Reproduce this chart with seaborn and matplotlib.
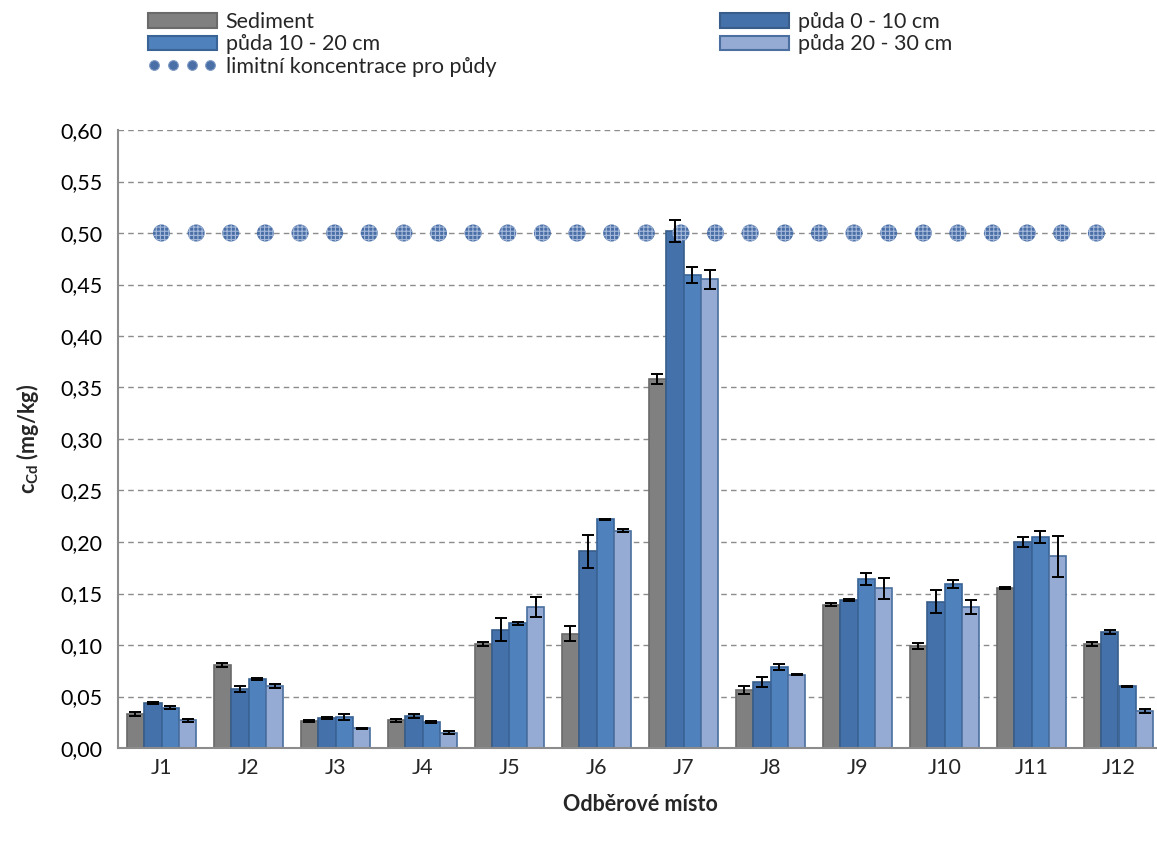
import numpy as np
import pandas as pd
import matplotlib
matplotlib.use("Agg")
import matplotlib.pyplot as plt
from matplotlib.patches import Patch
from matplotlib.lines import Line2D
from matplotlib.ticker import FuncFormatter, MultipleLocator
import seaborn as sns

# Sampling sites and depth series
sites = ["J1", "J2", "J3", "J4", "J5", "J6", "J7", "J8", "J9", "J10", "J11", "J12"]
series = ["Sediment", "půda 0 - 10 cm", "půda 10 - 20 cm", "půda 20 - 30 cm"]

# Cd concentration (mg/kg) and standard deviation for each series
sediment     = [0.033, 0.081, 0.026, 0.027, 0.101, 0.111, 0.358, 0.056, 0.139, 0.099, 0.155, 0.101]
soil_0_10    = [0.044, 0.057, 0.029, 0.031, 0.115, 0.191, 0.502, 0.064, 0.144, 0.142, 0.200, 0.113]
soil_10_20   = [0.039, 0.067, 0.030, 0.025, 0.121, 0.222, 0.459, 0.079, 0.164, 0.159, 0.205, 0.060]
soil_20_30   = [0.027, 0.060, 0.019, 0.015, 0.137, 0.211, 0.455, 0.071, 0.155, 0.137, 0.186, 0.036]

sediment_sd   = [0.0015, 0.002, 0.001, 0.0015, 0.0015, 0.007, 0.005, 0.004, 0.0015, 0.003, 0.001, 0.002]
soil_0_10_sd  = [0.001, 0.003, 0.001, 0.002, 0.011, 0.016, 0.011, 0.005, 0.001, 0.011, 0.005, 0.002]
soil_10_20_sd = [0.0015, 0.001, 0.003, 0.001, 0.0015, 0.0005, 0.008, 0.003, 0.006, 0.004, 0.006, 0.0005]
soil_20_30_sd = [0.0015, 0.002, 0.0005, 0.0015, 0.010, 0.0015, 0.009, 0.0005, 0.010, 0.007, 0.020, 0.002]

# Limit concentration for soils (mg/kg), repeated along the chart
limit_values = [0.50] * 28
limit_label = "limitní koncentrace pro půdy"

values = [sediment, soil_0_10, soil_10_20, soil_20_30]
errors = [sediment_sd, soil_0_10_sd, soil_10_20_sd, soil_20_30_sd]

df = pd.DataFrame({
    "site": np.tile(sites, len(series)),
    "series": np.repeat(series, len(sites)),
    "value": np.concatenate(values),
    "sd": np.concatenate(errors),
})

fill_colors = ["#808080", "#4471a9", "#4f81bd", "#95abd3"]
edge_colors = ["#6a6a6a", "#385d8a", "#3a6396", "#4a6fa0"]
marker_face = "#4a6ea6"
marker_hatch = "#a4b9da"

sns.set_style("white")
plt.rcParams["font.family"] = ["Lato", "DejaVu Sans"]
plt.rcParams["mathtext.fontset"] = "custom"
plt.rcParams["mathtext.rm"] = "Lato:weight=bold"
plt.rcParams["mathtext.bf"] = "Lato:weight=bold"
plt.rcParams["hatch.linewidth"] = 0.8

fig = plt.figure(figsize=(11.57, 8.41), dpi=100)
ax = fig.add_axes([118 / 1157, 1 - 748 / 841, 1044 / 1157, 618 / 841])

sns.barplot(data=df, x="site", y="value", hue="series", order=sites,
            hue_order=series, palette=fill_colors, saturation=1, errorbar=None,
            width=0.8, gap=0, ax=ax, legend=False, zorder=3)

for cont, ec, err in zip(ax.containers, edge_colors, errors):
    xs = []
    hs = []
    for bar in cont:
        bar.set_edgecolor(ec)
        bar.set_linewidth(1.2)
        xs.append(bar.get_x() + bar.get_width() / 2)
        hs.append(bar.get_height())
    ax.errorbar(xs, hs, yerr=err, fmt="none", ecolor="black",
                elinewidth=1.4, capsize=4, capthick=1.4, zorder=6)

# Limit concentration markers
limit_x = np.arange(len(limit_values)) * 0.398
ax.scatter(limit_x, limit_values, s=150, marker="o", facecolor=marker_face,
           edgecolor=marker_hatch, linewidth=0.0, hatch="++++", zorder=5)

ax.set_xlim(-0.5, 11.5)
ax.set_ylim(0, 0.60)
ax.yaxis.set_major_locator(MultipleLocator(0.05))
ax.yaxis.set_major_formatter(FuncFormatter(lambda v, p: f"{v:.2f}".replace(".", ",")))
ax.grid(axis="y", color="#8c8c8c", linestyle=(0, (4, 3)), linewidth=1.0, zorder=0)
ax.set_axisbelow(True)

for side in ["top", "right"]:
    ax.spines[side].set_visible(False)
for side in ["left", "bottom"]:
    ax.spines[side].set_color("#8c8c8c")
    ax.spines[side].set_linewidth(1.5)
    ax.spines[side].set_zorder(4)

ax.tick_params(axis="y", which="major", direction="out", length=5, width=1.2,
               color="#8c8c8c", labelsize=15.5, pad=6, labelcolor="black")
ax.tick_params(axis="x", which="major", length=0, labelsize=15.5, pad=7)
ax.set_xticks(np.arange(len(sites)) + 0.5, minor=True)
ax.tick_params(axis="x", which="minor", direction="in", length=7, width=1.5, color="#8c8c8c")

ax.set_xlabel("Odběrové místo", fontsize=15.5, fontweight="bold", labelpad=12)
ax.set_ylabel(r"$\mathbf{c}_{\mathbf{Cd}}$ (mg/kg)", fontsize=15.5, fontweight="bold", labelpad=14)

# Legend in two columns above the plot
h_sed = Patch(facecolor=fill_colors[0], edgecolor=edge_colors[0], linewidth=1.5)
h_010 = Patch(facecolor=fill_colors[1], edgecolor=edge_colors[1], linewidth=1.5)
h_1020 = Patch(facecolor=fill_colors[2], edgecolor=edge_colors[2], linewidth=1.5)
h_2030 = Patch(facecolor=fill_colors[3], edgecolor=edge_colors[3], linewidth=1.5)
h_lim = Line2D([0], [0], linestyle="none", marker="o", markersize=7,
               markerfacecolor=marker_face, markeredgecolor="#7f9bc6", markeredgewidth=0.8)

leg_kw = dict(frameon=False, fontsize=15.5, handlelength=3.2, handleheight=0.65,
              labelspacing=0.11, handletextpad=0.4, numpoints=4, borderaxespad=0,
              borderpad=0)
leg1 = fig.legend([h_sed, h_1020, h_lim], [series[0], series[2], limit_label],
                  loc="upper left", bbox_to_anchor=(148 / 1157, 1 - 12 / 841), **leg_kw)
leg2 = fig.legend([h_010, h_2030], [series[1], series[3]],
                  loc="upper left", bbox_to_anchor=(720 / 1157, 1 - 12 / 841), **leg_kw)

fig.savefig("out.png", dpi=100)
